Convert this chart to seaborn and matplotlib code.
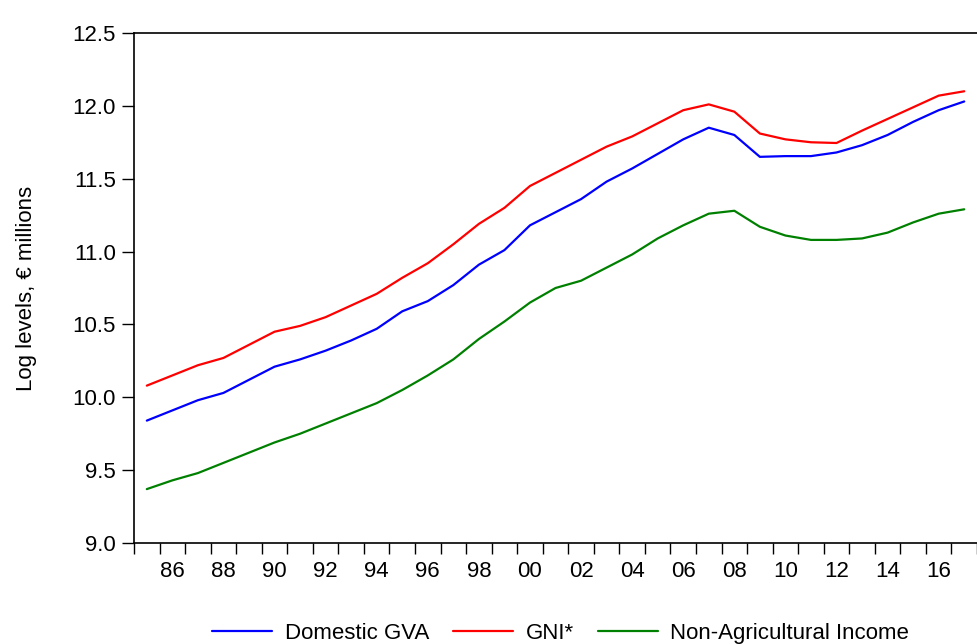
import pandas as pd
import matplotlib.pyplot as plt
import seaborn as sns

years = list(range(1985, 2018))

domestic_gva = [9.84, 9.91, 9.98, 10.03, 10.12, 10.21, 10.26, 10.32, 10.39, 10.47,
                10.59, 10.66, 10.77, 10.91, 11.01, 11.18, 11.27, 11.36, 11.48, 11.57,
                11.67, 11.77, 11.85, 11.80, 11.65, 11.655, 11.655, 11.68, 11.73, 11.80,
                11.89, 11.97, 12.03]
gni_star = [10.08, 10.15, 10.22, 10.27, 10.36, 10.45, 10.49, 10.55, 10.63, 10.71,
            10.82, 10.92, 11.05, 11.19, 11.30, 11.45, 11.54, 11.63, 11.72, 11.79,
            11.88, 11.97, 12.01, 11.96, 11.81, 11.77, 11.75, 11.745, 11.83, 11.91,
            11.99, 12.07, 12.10]
non_agri_income = [9.37, 9.43, 9.48, 9.55, 9.62, 9.69, 9.75, 9.82, 9.89, 9.96,
                   10.05, 10.15, 10.26, 10.40, 10.52, 10.65, 10.75, 10.80, 10.89, 10.98,
                   11.09, 11.18, 11.26, 11.28, 11.17, 11.11, 11.08, 11.08, 11.09, 11.13,
                   11.20, 11.26, 11.29]

series_names = ['Domestic GVA', 'GNI*', 'Non-Agricultural Income']
series_colors = ['#0000ff', '#ff0000', '#008000']

df = pd.DataFrame({'year': years,
                   'Domestic GVA': domestic_gva,
                   'GNI*': gni_star,
                   'Non-Agricultural Income': non_agri_income})
long_df = df.melt(id_vars='year', var_name='series', value_name='value')

sns.set_style('ticks')
plt.rcParams['font.family'] = ['Liberation Sans', 'DejaVu Sans']
plt.rcParams['text.color'] = 'black'
plt.rcParams['xtick.labelcolor'] = 'black'
plt.rcParams['ytick.labelcolor'] = 'black'
plt.rcParams['axes.labelcolor'] = 'black'
fs = 16

fig = plt.figure(figsize=(9.77, 6.44), dpi=100)
ax = fig.add_axes([0.1372, 0.1568, 1 - 0.1372, 0.9488 - 0.1568])

sns.lineplot(data=long_df, x='year', y='value', hue='series', hue_order=series_names,
             palette=dict(zip(series_names, series_colors)), linewidth=1.6, ax=ax,
             legend=False)

ax.set_xlim(1984.5, 1984.5 + 843 / 25.8)
ax.set_ylim(9.0, 12.5)
ax.set_yticks([9.0 + 0.5 * i for i in range(8)])
ax.set_yticklabels([f'{9.0 + 0.5 * i:.1f}' for i in range(8)], fontsize=fs)

# labels at year centres, tick marks at year boundaries
label_years = list(range(1986, 2017, 2))
ax.set_xticks(label_years)
ax.set_xticklabels([f'{y % 100:02d}' for y in label_years], fontsize=fs)
ax.set_xticks([y - 0.5 for y in range(1985, 2019)], minor=True)
ax.tick_params(axis='x', which='major', length=0, pad=13)
ax.tick_params(axis='x', which='minor', length=8, width=1, direction='out', color='black')
ax.tick_params(axis='y', length=9, width=1, direction='out', color='black', pad=4)

ax.set_xlabel('')
ax.set_ylabel('Log levels, € millions', fontsize=fs, labelpad=26)
for side in ['left', 'top', 'bottom']:
    ax.spines[side].set_color('black')
    ax.spines[side].set_linewidth(1.2)
ax.spines['right'].set_visible(False)

handles = [plt.Line2D([], [], color=c, linewidth=1.6) for c in series_colors]
fig.legend(handles, series_names, loc='center', bbox_to_anchor=(0.574, 0.016), ncol=3,
           frameon=False, fontsize=fs, handlelength=2.7, columnspacing=1.1,
           handletextpad=0.55)

fig.savefig('out.png', dpi=100)
